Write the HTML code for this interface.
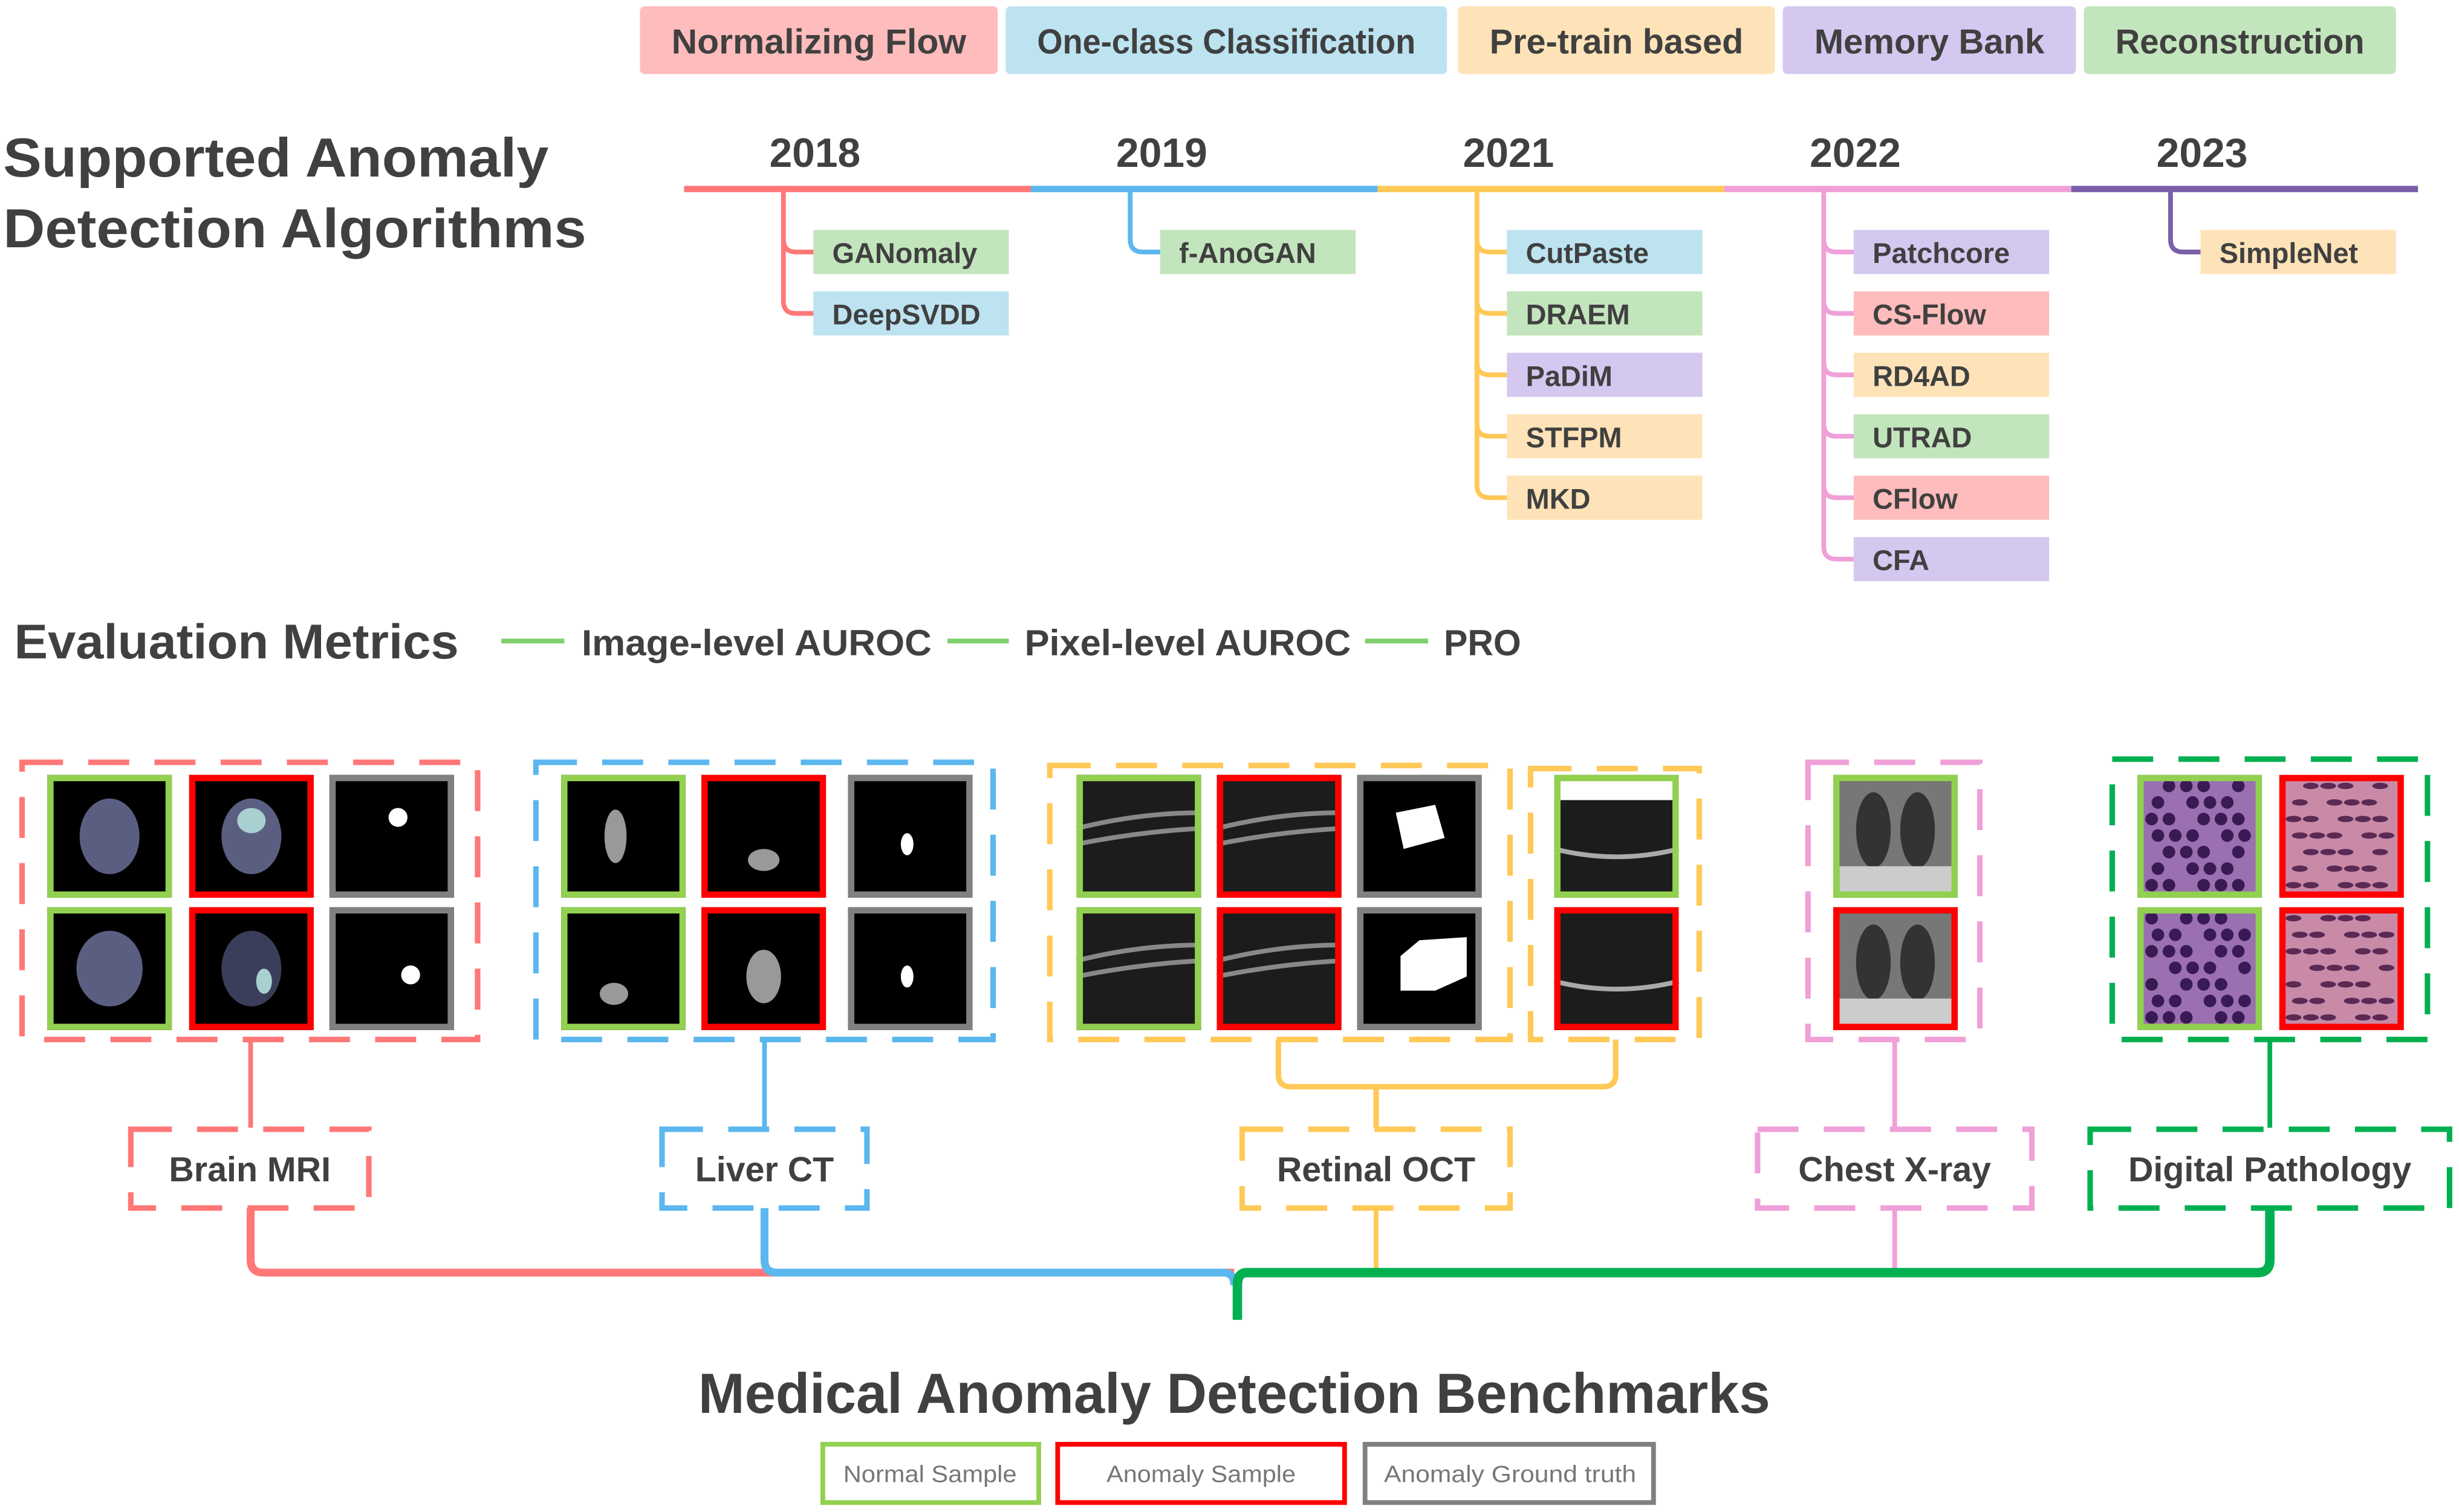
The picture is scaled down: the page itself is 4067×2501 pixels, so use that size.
<!DOCTYPE html>
<html><head><meta charset="utf-8"><style>
html,body{margin:0;padding:0;background:#fff;}
svg{display:block;}
text{font-family:"Liberation Sans",sans-serif;font-weight:bold;fill:#404040;}
</style></head><body>
<svg id="fig" xmlns="http://www.w3.org/2000/svg" width="4067" height="2501" viewBox="0 0 1560 960" preserveAspectRatio="none">
<rect width="1560" height="960" fill="#fff"/>
<g id="cats"></g>
<g>
<text x="2" y="112" font-size="35" textLength="346" lengthAdjust="spacingAndGlyphs">Supported Anomaly</text>
<text x="2" y="157" font-size="35" textLength="370" lengthAdjust="spacingAndGlyphs">Detection Algorithms</text>
</g>
<g id="timeline"></g>
<g>
<text x="9" y="418" font-size="31" textLength="282" lengthAdjust="spacingAndGlyphs">Evaluation Metrics</text>
<line x1="318" y1="407" x2="358" y2="407" stroke="#7fcf6f" stroke-width="3"/>
<text x="369" y="416" font-size="23" textLength="222" lengthAdjust="spacingAndGlyphs">Image-level AUROC</text>
<line x1="601" y1="407" x2="640" y2="407" stroke="#7fcf6f" stroke-width="3"/>
<text x="650" y="416" font-size="23" textLength="207" lengthAdjust="spacingAndGlyphs">Pixel-level AUROC</text>
<line x1="866" y1="407" x2="906" y2="407" stroke="#7fcf6f" stroke-width="3"/>
<text x="916" y="416" font-size="23" textLength="49" lengthAdjust="spacingAndGlyphs">PRO</text>
</g>
<g id="bus" fill="none" stroke-linejoin="round">
<path d="M159 660 V716" stroke="#ff7777" stroke-width="3"/>
<path d="M485 660 V716" stroke="#5bb7ee" stroke-width="3"/>
<path d="M811 660 V682 Q811 690 819 690 H1017 Q1025 690 1025 682 V660 M873 690 V716" stroke="#ffc857" stroke-width="3.5"/>
<path d="M1202 660 V716" stroke="#f0a0d8" stroke-width="3"/>
<path d="M1440 660 V716" stroke="#00b050" stroke-width="3"/>
<path d="M159 767 V800 Q159 808 167 808 H783" stroke="#ff7777" stroke-width="5"/>
<path d="M485 767 V800 Q485 808 493 808 H776 Q783 808 783 816" stroke="#5bb7ee" stroke-width="5"/>
<path d="M873 767 V808" stroke="#ffc857" stroke-width="3"/>
<path d="M1202 767 V808" stroke="#f0a0d8" stroke-width="3"/>
<path d="M1440 767 V800 Q1440 808 1432 808 H791 Q785 808 785 816 V838" stroke="#00b050" stroke-width="6"/>
</g>
<g id="groups"></g>
<text x="783" y="897" font-size="36" text-anchor="middle" textLength="680" lengthAdjust="spacingAndGlyphs">Medical Anomaly Detection Benchmarks</text>
<g>
<rect x="522" y="917" width="137" height="37" fill="none" stroke="#92d050" stroke-width="3"/>
<text x="590" y="941" font-size="15" text-anchor="middle" style="font-weight:normal;fill:#777" textLength="110" lengthAdjust="spacingAndGlyphs">Normal Sample</text>
<rect x="671" y="917" width="182" height="37" fill="none" stroke="#ff0000" stroke-width="3"/>
<text x="762" y="941" font-size="15" text-anchor="middle" style="font-weight:normal;fill:#777" textLength="120" lengthAdjust="spacingAndGlyphs">Anomaly Sample</text>
<rect x="866" y="917" width="183" height="37" fill="none" stroke="#808080" stroke-width="3"/>
<text x="958" y="941" font-size="15" text-anchor="middle" style="font-weight:normal;fill:#777" textLength="160" lengthAdjust="spacingAndGlyphs">Anomaly Ground truth</text>
</g>
</svg>
<script>
const NS="http://www.w3.org/2000/svg";
const catNames=["Normalizing Flow","One-class Classification","Pre-train based","Memory Bank","Reconstruction"];
const catColors=["#ffbcbc","#bde3f0","#ffe3b8","#d4c8f0","#c3e5bd"];
const catX=[406,638,925,1131,1322];
const catW=[227,280,201,186,198];
const years=["2018","2019","2021","2022","2023"];
const yearColors=["#ff7777","#5bb7ee","#ffc857","#f0a0d8","#7b5fa8"];
const methods=[["GANomaly","DeepSVDD"],["f-AnoGAN"],["CutPaste","DRAEM","PaDiM","STFPM","MKD"],["Patchcore","CS-Flow","RD4AD","UTRAD","CFlow","CFA"],["SimpleNet"]];
const methodCats=[[4,1],[4],[1,4,3,2,2],[3,0,2,4,0,3],[2]];
function el(tag,attrs,parent){const e=document.createElementNS(NS,tag);for(const k in attrs)e.setAttribute(k,attrs[k]);parent.appendChild(e);return e;}
const cats=document.getElementById('cats');
catNames.forEach((n,i)=>{
  const r=el('rect',{x:catX[i],y:4,width:catW[i],height:43,rx:3,fill:catColors[i]},cats);
  
  
  const t=el('text',{x:catX[i]+catW[i]/2,y:34,'font-size':22,'text-anchor':'middle',textLength:catW[i]-40,lengthAdjust:'spacingAndGlyphs'},cats);
  t.textContent=n;
  
  
});
const tl=document.getElementById('timeline');
const segW=220,segX0=434;
years.forEach((y,i)=>{
  const x0=segX0+i*segW, bx=x0+63, c=yearColors[i];
  const ln=el('line',{x1:x0,y1:120,x2:x0+segW,y2:120,stroke:c,'stroke-width':4},tl);
  
  
  const t=el('text',{x:x0+83,y:106,'font-size':26,'text-anchor':'middle'},tl);
  t.textContent=y;
  
  
  const ms=methods[i];
  const lastY=160+(ms.length-1)*39;
  el('path',{d:`M${bx} 120 V${lastY-8} Q${bx} ${lastY} ${bx+8} ${lastY} H${bx+20}`,fill:'none',stroke:c,'stroke-width':3},tl);
  ms.forEach((m,j)=>{
    const cy=160+j*39;
    if(j<ms.length-1) el('path',{d:`M${bx} ${cy-8} Q${bx} ${cy} ${bx+8} ${cy} H${bx+20}`,fill:'none',stroke:c,'stroke-width':3},tl);
    const r=el('rect',{x:bx+19,y:cy-14,width:124,height:28,fill:catColors[methodCats[i][j]]},tl);
    
    
    const tt=el('text',{x:bx+31,y:cy+7,'font-size':18},tl);
    tt.textContent=m;
    
    
  });
});
const groups=document.getElementById('groups');
const groupBoxes=[
 {name:'brain-mri',c:'#ff7777',x:14,y:484,w:289,h:176,cols:[30,120,209],kinds:['brain','brainA','maskB']},
 {name:'liver-ct',c:'#5bb7ee',x:340,y:484,w:290,h:176,cols:[356,445,538],kinds:['liver','liverA','maskL']},
 {name:'retinal-oct-1',c:'#ffc857',x:666,y:486,w:292,h:174,cols:[683,772,861],kinds:['oct','octA','maskO']},
 {name:'retinal-oct-2',c:'#ffc857',x:971,y:488,w:107,h:172,cols:[986],kinds:['oct2']},
 {name:'chest-xray',c:'#f0a0d8',x:1147,y:484,w:109,h:176,cols:[1163],kinds:['xray']},
 {name:'digital-pathology',c:'#00b050',x:1340,y:482,w:200,h:178,cols:[1356,1446],kinds:['path','pathA']}
];
const borderCol={n:'#92d050',a:'#ff0000',g:'#808080'};
function tile(x,y,kind,border,row){
  const g=el('g',{},groups);
  
  
  const w=79,h=78;
  let bg='#000';
  if(kind.startsWith('xray'))bg='#1a1a1a';
  if(kind.startsWith('path'))bg=kind=='pathA'?'#c98aa8':'#9a70b0';
  el('rect',{x:x,y:y,width:w,height:h,fill:bg},g);
  const cx=x+w/2,cy=y+h/2;
  if(kind=='brain'){el('ellipse',{cx:cx,cy:cy,rx:19+row*2,ry:24,fill:'#5a5f82'},g);}
  if(kind=='brainA'){el('ellipse',{cx:cx,cy:cy,rx:19,ry:24,fill:row?'#3a3e5a':'#5a5f82'},g);el('ellipse',{cx:cx+(row?8:0),cy:cy+(row?8:-10),rx:row?5:9,ry:8,fill:'#a8d0d0'},g);}
  if(kind=='maskB'){el('circle',{cx:cx+(row?12:4),cy:cy+(row?4:-12),r:6,fill:'#fff'},g);}
  if(kind=='liver'){if(row==0)el('ellipse',{cx:cx-5,cy:cy,rx:7,ry:17,fill:'#999'},g);else el('ellipse',{cx:cx-6,cy:cy+16,rx:9,ry:7,fill:'#999'},g);}
  if(kind=='liverA'){if(row==0)el('ellipse',{cx:cx,cy:cy+15,rx:10,ry:7,fill:'#999'},g);else el('ellipse',{cx:cx,cy:cy+5,rx:11,ry:17,fill:'#999'},g);}
  if(kind=='maskL'){el('ellipse',{cx:cx-2,cy:cy+5,rx:4,ry:7,fill:'#fff'},g);}
  if(kind=='oct'||kind=='octA'){el('rect',{x:x,y:y,width:w,height:h,fill:'#1c1c1c'},g);el('path',{d:`M${x} ${cy-5} Q${cx} ${cy-15} ${x+w} ${cy-15} M${x} ${cy+5} Q${cx} ${cy-3} ${x+w} ${cy-5}`,stroke:'#888','stroke-width':3,fill:'none'},g);}
  if(kind=='maskO'){if(row==0)el('polygon',{points:`${cx-15},${cy-15} ${cx+10},${cy-20} ${cx+16},${cy+1} ${cx-10},${cy+8}`,fill:'#fff'},g);else el('polygon',{points:`${cx-12},${cy-8} ${cx},${cy-18} ${cx+30},${cy-20} ${cx+30},${cy+5} ${cx+10},${cy+14} ${cx-12},${cy+14}`,fill:'#fff'},g);}
  if(kind=='oct2'){el('rect',{x:x,y:y,width:w,height:h,fill:'#1c1c1c'},g);if(row==0)el('rect',{x:x,y:y,width:w,height:16,fill:'#fff'},g);el('path',{d:`M${x} ${cy+8} Q${cx} ${cy+18} ${x+w} ${cy+8}`,stroke:'#aaa','stroke-width':3,fill:'none'},g);}
  if(kind=='xray'){el('rect',{x:x+4,y:y+4,width:w-8,height:h-6,fill:'#777'},g);el('ellipse',{cx:cx-14,cy:cy-4,rx:11,ry:24,fill:'#333'},g);el('ellipse',{cx:cx+14,cy:cy-4,rx:11,ry:24,fill:'#333'},g);el('rect',{x:x+4,y:y+h-20,width:w-8,height:18,fill:'#ccc'},g);}
  if(kind.startsWith('path')){
    const dc=kind=='pathA'?'#5a2a55':'#3a1a55';
    for(let i=0;i<6;i++)for(let j=0;j<7;j++){
      if((i*3+j*5+row)%4==0)continue;
      el('ellipse',{cx:x+9+i*11+(j%2)*4,cy:y+7+j*10.5,rx:kind=='pathA'?5:4,ry:kind=='pathA'?2:4,fill:dc},g);
    }
  }
  el('rect',{x:x+2,y:y+2,width:w-4,height:h-4,fill:'none',stroke:border,'stroke-width':4},g);
}
groupBoxes.forEach(gb=>{
  const r=el('rect',{x:gb.x,y:gb.y,width:gb.w,height:gb.h,fill:'none',stroke:gb.c,'stroke-width':3.5,'stroke-dasharray':'26 16'},groups);
  
  
  [0,1].forEach(row=>{
    const y=row==0?492:576;
    gb.cols.forEach((x,ci)=>{
      let k=gb.kinds[ci];let b=ci==0?'n':(ci==1?'a':'g');
      if(gb.name=='retinal-oct-2'||gb.name=='chest-xray'){b=row==0?'n':'a';}
      if(gb.name=='digital-pathology'){b=ci==0?'n':'a';}
      tile(x,y,k,borderCol[b],row);
    });
  });
});
const labels=[["Brain MRI",'#ff7777',83,151],["Liver CT",'#5bb7ee',420,130],["Retinal OCT",'#ffc857',788,170],["Chest  X-ray",'#f0a0d8',1115,174],["Digital Pathology",'#00b050',1326,228]];
labels.forEach(l=>{
  const r=el('rect',{x:l[2],y:717,width:l[3],height:50,fill:'#fff',stroke:l[1],'stroke-width':3.5,'stroke-dasharray':'26 16'},groups);
  
  
  const t=el('text',{x:l[2]+l[3]/2,y:750,'font-size':22,'text-anchor':'middle'},groups);
  t.textContent=l[0];
  
  
});
</script>
</body></html>
